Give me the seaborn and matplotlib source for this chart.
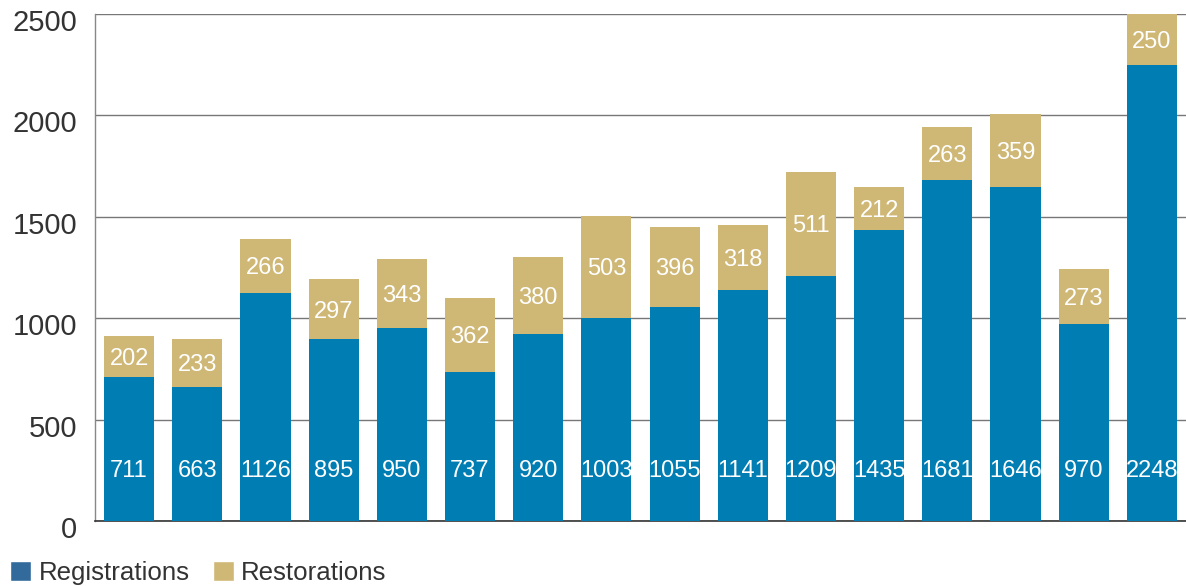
import pandas as pd
import seaborn as sns
import matplotlib.pyplot as plt
from matplotlib.patches import Patch
from matplotlib.transforms import ScaledTranslation

registrations = [711, 663, 1126, 895, 950, 737, 920, 1003, 1055, 1141, 1209, 1435, 1681, 1646, 970, 2248]
restorations = [202, 233, 266, 297, 343, 362, 380, 503, 396, 318, 511, 212, 263, 359, 273, 250]
positions = list(range(len(registrations)))

blue = '#007db3'
gold = '#cfb775'
legend_blue = '#336a9c'

df = pd.DataFrame({'pos': positions, 'reg': registrations, 'res': restorations})
df['total'] = df['reg'] + df['res']

sns.set_theme(style='white')
plt.rcParams['font.family'] = ['Liberation Sans', 'DejaVu Sans']

fig = plt.figure(figsize=(11.86, 5.86), dpi=100)
ax = fig.add_axes([95 / 1186, 1 - 521 / 586, (1186 - 95) / 1186, (521 - 14) / 586])

sns.barplot(data=df, x='pos', y='total', color=gold, width=0.735, saturation=1,
            linewidth=0, edgecolor='none', ax=ax, zorder=2)
sns.barplot(data=df, x='pos', y='reg', color=blue, width=0.735, saturation=1,
            linewidth=0, edgecolor='none', ax=ax, zorder=3)

for i, row in df.iterrows():
    ax.text(i, 247, str(row['reg']), ha='center', va='center', color='white', fontsize=17, zorder=4)
    ax.text(i, row['reg'] + row['res'] / 2 - 12, str(row['res']), ha='center', va='center',
            color='white', fontsize=17, zorder=4)

ax.set_xlim(-0.5, 15.5)
ax.set_ylim(0, 2500)
ax.set_yticks([0, 500, 1000, 1500, 2000, 2500])
ax.set_xticks([])
ax.set(xlabel='', ylabel='')
ax.yaxis.grid(True, color='#777777', linewidth=1)
ax.set_axisbelow(True)
ax.tick_params(axis='y', labelsize=21, labelcolor='#333333', pad=13, length=0)
shift = ScaledTranslation(0, -6 / 100, fig.dpi_scale_trans)
for lbl in ax.get_yticklabels():
    lbl.set_transform(lbl.get_transform() + shift)
for s in ['top', 'right']:
    ax.spines[s].set_visible(False)
ax.spines['left'].set_color('#888888')
ax.spines['bottom'].set_color('#333333')
ax.spines['left'].set_linewidth(1)
ax.spines['bottom'].set_linewidth(1.2)

handles = [Patch(facecolor=legend_blue, label='Registrations'),
           Patch(facecolor=gold, label='Restorations')]
fig.legend(handles=handles, loc='lower left', bbox_to_anchor=(10 / 1186, 1 / 586), ncol=2, frameon=False,
           fontsize=18.6, handlelength=0.82, handleheight=0.82, handletextpad=0.28,
           columnspacing=0.9, labelcolor='#333333', borderpad=0, borderaxespad=0)

fig.savefig('out.png', dpi=100)
